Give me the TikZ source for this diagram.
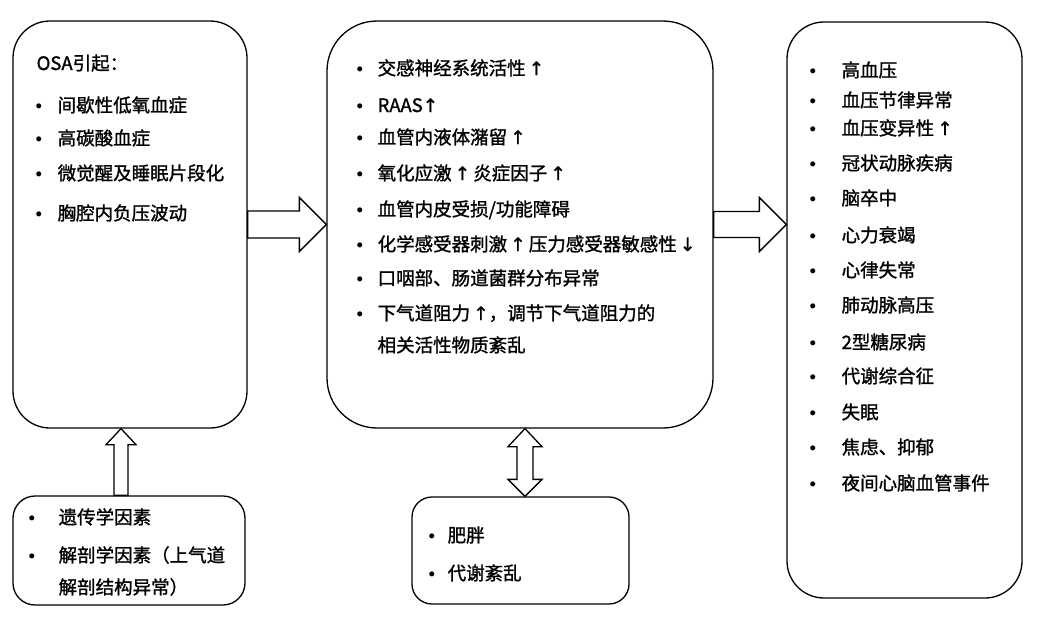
\documentclass[tikz,border=0pt]{standalone}
\usepackage{fontspec}
\setmainfont{Noto Sans CJK SC}[FakeBold=1.3]
\newfontfamily\bulfont{Liberation Sans}
\newfontfamily\arrfont{DejaVu Sans}[FakeBold=1.3]
\usetikzlibrary{calc}

\newcommand{\bul}[1]{\makebox[#1][l]{\bulfont •}}
\newcommand{\upar}{{\arrfont ↑}}
\newcommand{\dnar}{{\arrfont ↓}}

\begin{document}
\begin{tikzpicture}[
        x=1pt, y=-1pt,
        line width=1.3pt,
        panel/.style={
            rectangle,
            draw,
            rounded corners=#1,
            inner sep=0pt
        },
        item/.style={
            anchor=base west,
            inner sep=0pt,
            font=\fontsize{18.5}{22}\selectfont
        },
        blockarrow/.style={
            draw,
            fill=white,
            line join=miter
        }
    ]

    \useasboundingbox (0,0) rectangle (1045,622);

    % Boxes
    \node[panel=37pt, minimum width=234pt, minimum height=407pt] (osa) at (130,224.5) {};
    \node[panel=50pt, minimum width=386pt, minimum height=407pt] (mech) at (520,224.5) {};
    \node[panel=37pt, minimum width=235pt, minimum height=576pt] (dis) at (904.5,310) {};
    \node[panel=22pt, minimum width=232pt, minimum height=109pt] (gen) at (129,550.5) {};
    \node[panel=20pt, minimum width=217pt, minimum height=107pt] (obs) at (520.5,550.5) {};

    % Block arrows
    \draw[blockarrow] ([yshift=13.5pt]osa.east) -- ($(mech.west)+(-27,-13.5)$) -- ++(0,-13.5) -- (mech.west)
        -- ++(-27,27) -- ++(0,-13.5) -- ([yshift=-13.5pt]osa.east) -- cycle;

    \coordinate (dis_in) at (dis.west |- mech.east);
    \draw[blockarrow] ([yshift=13pt]mech.east) -- ($(dis_in)+(-27,-13)$) -- ++(0,-14) -- (dis_in)
        -- ++(-27,27) -- ++(0,-14) -- ([yshift=-13pt]mech.east) -- cycle;

    \coordinate (up_tip) at ([xshift=-9pt]osa.south);
    \draw[blockarrow] (up_tip) -- ++(15,16) -- ++(-8,0) -- ([xshift=7pt]up_tip |- gen.north)
        -- ([xshift=-7pt]up_tip |- gen.north) -- ($(up_tip)+(-7,16)$) -- ++(-8,0) -- cycle;

    \coordinate (dbl_top) at ([xshift=5pt]mech.south);
    \coordinate (dbl_bot) at (dbl_top |- obs.north);
    \draw[blockarrow] (dbl_top) -- ++(17,18) -- ++(-9,0) -- ($(dbl_bot)+(8,-17)$) -- ++(9,0) -- (dbl_bot)
        -- ++(-17,-17) -- ++(9,0) -- ($(dbl_top)+(-8,18)$) -- ++(-9,0) -- cycle;

    % OSA causes
    \node[item] (osa_head) at (36,70) {OSA引起：};
    \node[item] (osa_1) at (35,112) {\bul{22pt}间歇性低氧血症};
    \node[item] (osa_2) at (35,145) {\bul{22pt}高碳酸血症};
    \node[item] (osa_3) at (35,180) {\bul{22pt}微觉醒及睡眠片段化};
    \node[item] (osa_4) at (35,220) {\bul{22pt}胸腔内负压波动};

    % Mechanisms
    \node[item] (mech_1) at (356,75) {\bul{21pt}交感神经系统活性\,\upar};
    \node[item] (mech_2) at (356,112) {\bul{21pt}RAAS\upar};
    \node[item] (mech_3) at (356,144) {\bul{21pt}血管内液体潴留\,\upar};
    \node[item] (mech_4) at (356,180) {\bul{21pt}氧化应激\,\upar\,炎症因子\,\upar};
    \node[item] (mech_5) at (356,216) {\bul{21pt}血管内皮受损/功能障碍};
    \node[item] (mech_6) at (356,251) {\bul{21pt}化学感受器刺激\,\upar\,压力感受器敏感性\,\dnar};
    \node[item] (mech_7) at (356,285) {\bul{21pt}口咽部、肠道菌群分布异常};
    \node[item] (mech_8) at (356,320) {\bul{21pt}下气道阻力\,\upar，调节下气道阻力的};
    \node[item] (mech_9) at (377,352) {相关活性物质紊乱};

    % Diseases
    \node[item] (dis_1) at (809,77) {\bul{32pt}高血压};
    \node[item] (dis_2) at (809,107) {\bul{32pt}血压节律异常};
    \node[item] (dis_3) at (809,135) {\bul{32pt}血压变异性\,\upar};
    \node[item] (dis_4) at (809,170) {\bul{32pt}冠状动脉疾病};
    \node[item] (dis_5) at (809,205) {\bul{32pt}脑卒中};
    \node[item] (dis_6) at (809,242) {\bul{32pt}心力衰竭};
    \node[item] (dis_7) at (809,277) {\bul{32pt}心律失常};
    \node[item] (dis_8) at (809,312) {\bul{32pt}肺动脉高压};
    \node[item] (dis_9) at (809,349) {\bul{32pt}2型糖尿病};
    \node[item] (dis_10) at (809,383) {\bul{32pt}代谢综合征};
    \node[item] (dis_11) at (809,419) {\bul{32pt}失眠};
    \node[item] (dis_12) at (809,454) {\bul{32pt}焦虑、抑郁};
    \node[item] (dis_13) at (809,490) {\bul{32pt}夜间心脑血管事件};

    % Genetic / anatomical factors
    \node[item] (gen_1) at (28,524) {\bul{30pt}遗传学因素};
    \node[item] (gen_2) at (28,562) {\bul{30pt}解剖学因素（上气道};
    \node[item] (gen_3) at (58,594) {解剖结构异常）};

    % Obesity / metabolism
    \node[item] (obs_1) at (428,542) {\bul{19pt}肥胖};
    \node[item] (obs_2) at (428,580) {\bul{19pt}代谢紊乱};

\end{tikzpicture}
\end{document}
